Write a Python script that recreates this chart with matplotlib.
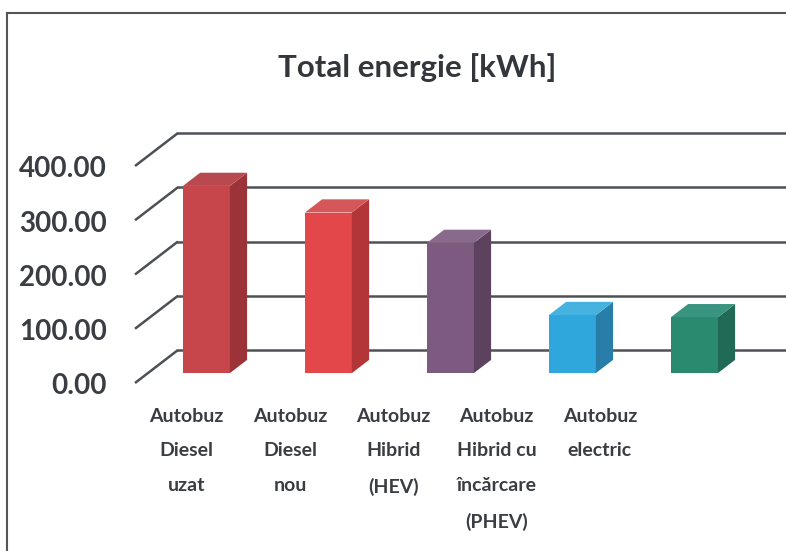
import matplotlib
matplotlib.use("Agg")
import matplotlib.pyplot as plt
from matplotlib.patches import Polygon
from matplotlib.lines import Line2D

plt.rcParams['font.family'] = ['Lato', 'DejaVu Sans']

# energy per bus type [kWh]
categorii = ["Autobuz\nDiesel\nuzat", "Autobuz\nDiesel\nnou", "Autobuz\nHibrid\n(HEV)",
             "Autobuz\nHibrid cu\nîncărcare\n(PHEV)", "Autobuz\nelectric"]
energie = [345, 296, 240, 107, 103]
ticks_y = [0, 100, 200, 300, 400]

# front / side / top shades per bar
culori_fata = ["#c6464c", "#e4474a", "#7d5a7f", "#2fa6dc", "#2a8a70"]
culori_lateral = ["#9c3338", "#b43538", "#5d4260", "#287ea8", "#216a56"]
culori_sus = ["#b84a4f", "#d6575a", "#8a6a8c", "#46b2e0", "#3a9580"]

W, H = 786, 551
fig = plt.figure(figsize=(W / 100, H / 100), dpi=100)
ax = fig.add_axes([0, 0, 1, 1])

# pixel scale of the oblique projection
px_x, px_y = 122.0, 0.5425          # px per category, px per kWh
x_org, y_org = 193.5, 383.0         # px of (cat 0, 0 kWh) on the front plane
ax.set_xlim(-x_org / px_x, (W - x_org) / px_x)
ax.set_ylim(-(H - y_org) / px_y, y_org / px_y)
ax.axis("off")

DX, DY = 43 / px_x, 33 / px_y       # depth of the floor
X0 = (135 - x_org) / px_x           # front-left corner of the floor
xmax = ax.get_xlim()[1] + 0.2
grid = "#4d5156"

for t in ticks_y:
    ax.plot([X0, X0 + DX], [t, t + DY], color=grid, lw=1.8, zorder=1,
            solid_capstyle="butt")
    ax.plot([X0 + DX, xmax], [t + DY, t + DY], color=grid, lw=1.8, zorder=1)
    ax.text(X0 - 0.23, t - 6, f"{t:.2f}", ha="right", va="center",
            fontsize=20, fontweight="bold", color="#3a3d42")

# 3D columns: front face as a bar, side and top as polygons
f0, f1 = 0.3, 0.7
lat = 0.385
for i, v in enumerate(energie):
    xf = i + f0 * DX
    yb = f0 * DY
    ax.bar(xf, v, width=lat, bottom=yb, color=culori_fata[i], zorder=3,
           edgecolor="none")
    ddx, ddy = (f1 - f0) * DX, (f1 - f0) * DY
    xr = xf + lat / 2
    xl = xf - lat / 2
    side = [(xr, yb), (xr + ddx, yb + ddy), (xr + ddx, yb + v + ddy), (xr, yb + v)]
    top = [(xl, yb + v), (xr, yb + v), (xr + ddx, yb + v + ddy), (xl + ddx, yb + v + ddy)]
    ax.add_patch(Polygon(side, closed=True, color=culori_lateral[i], zorder=3, lw=0))
    ax.add_patch(Polygon(top, closed=True, color=culori_sus[i], zorder=3, lw=0))

# category labels along the front edge of the floor
pas = 103.3 / px_x
for i, c in enumerate(categorii):
    ax.text(X0 + (i + 0.5) * pas, -46, c, ha="center", va="top",
            fontsize=14, fontweight="bold", color="#3a3d42", linespacing=2.25)

fig.text(417 / W, 1 - 68 / H, "Total energie [kWh]", ha="center", va="center",
         fontsize=22.5, fontweight="bold", color="#33373c")

# chart frame
fig.add_artist(Line2D([7 / W, 1], [1 - 13 / H, 1 - 13 / H], color="#555", lw=1.5))
fig.add_artist(Line2D([7 / W, 7 / W], [0, 1 - 13 / H], color="#555", lw=1.5))

fig.savefig("out.png", dpi=100)
